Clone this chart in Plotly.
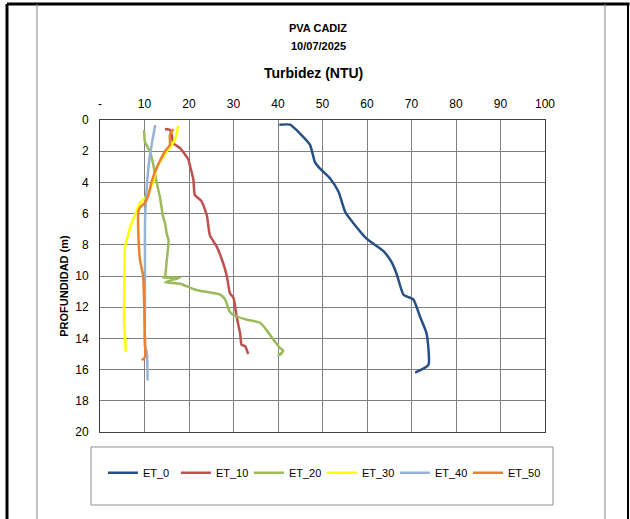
import plotly.graph_objects as go

# Turbidez (NTU) vs profundidad (m) por estación
et0_ntu = [40.3, 42.7, 44.9, 47.2, 48.3, 49.4, 51.7, 53.6, 55.1, 56.9, 59.9, 63.7, 65.5, 66.7, 68.2, 70.4, 71.9, 73.4, 73.8, 70.8]
et0_depth = [0.3, 0.3, 0.85, 1.6, 2.7, 3.1, 3.75, 4.6, 5.9, 6.6, 7.6, 8.4, 9.1, 9.9, 11.2, 11.5, 12.6, 13.7, 15.7, 16.2]

et10_ntu = [14.6, 15.7, 16.1, 16.5, 18.0, 19.8, 20.2, 21.0, 21.3, 22.8, 24.0, 24.7, 26.2, 27.7, 28.5, 29.2, 30.0, 30.7, 31.5, 31.8, 32.6, 33.3]
et10_depth = [0.58, 0.64, 0.96, 1.5, 1.8, 2.5, 2.9, 3.85, 4.8, 5.2, 6.1, 7.4, 8.1, 9.2, 10.0, 11.1, 11.4, 12.6, 13.7, 14.4, 14.5, 15.0]

et20_ntu = [9.9, 10.1, 11.2, 12.0, 12.7, 13.5, 14.1, 14.6, 15.0, 15.4, 15.0, 14.6, 14.2, 18.0, 14.6, 18.0, 21.7, 27.0, 28.1, 29.2, 30.0, 33.0, 36.0, 37.5, 39.3, 40.4, 41.2, 40.1, 41.0]
et20_depth = [0.64, 1.4, 2.0, 2.9, 3.95, 5.0, 6.1, 6.6, 7.3, 7.7, 9.0, 10.0, 10.1, 10.1, 10.4, 10.5, 10.9, 11.2, 11.5, 12.3, 12.5, 12.8, 13.0, 13.5, 14.2, 14.6, 14.8, 15.1, 14.95]

et30_ntu = [17.6, 16.9, 16.1, 15.0, 13.9, 12.7, 12.0, 10.9, 10.1, 9.0, 7.9, 7.1, 6.0, 5.6, 5.5, 5.4, 5.6, 5.8]
et30_depth = [0.37, 1.2, 1.6, 2.0, 2.5, 3.1, 3.95, 4.6, 5.0, 5.3, 6.1, 6.6, 7.7, 8.2, 10.0, 12.8, 13.8, 14.85]

et40_ntu = [12.4, 12.0, 11.6, 11.1, 10.6, 10.3, 10.1, 10.1, 10.1, 10.1, 10.5, 10.7]
et40_depth = [0.32, 0.96, 1.6, 2.5, 3.95, 5.2, 6.7, 9.0, 12.0, 14.5, 14.85, 16.7]

et50_ntu = [16.5, 15.7, 15.7, 14.6, 13.5, 12.4, 11.6, 10.9, 10.1, 9.0, 8.6, 8.6, 9.0, 9.7, 10.0, 10.1, 10.1, 9.4]
et50_depth = [0.58, 0.96, 1.6, 2.0, 2.6, 3.3, 3.95, 4.8, 5.3, 5.6, 5.9, 7.1, 9.0, 10.0, 12.8, 14.0, 15.2, 15.4]

x_ticks = [0, 10, 20, 30, 40, 50, 60, 70, 80, 90, 100]
x_tick_labels = ["-", "10", "20", "30", "40", "50", "60", "70", "80", "90", "100"]
y_ticks = [0, 2, 4, 6, 8, 10, 12, 14, 16, 18, 20]

series = [
    ("ET_0", et0_ntu, et0_depth, "#264F86"),
    ("ET_10", et10_ntu, et10_depth, "#C0504D"),
    ("ET_20", et20_ntu, et20_depth, "#9BBB59"),
    ("ET_30", et30_ntu, et30_depth, "#FFFF00"),
    ("ET_40", et40_ntu, et40_depth, "#95B3D7"),
    ("ET_50", et50_ntu, et50_depth, "#E9812F"),
]

fig = go.Figure()

for name, xs, ys, color in series:
    fig.add_trace(go.Scatter(
        x=xs, y=ys, name=name, mode="lines",
        line=dict(color=color, width=2.5, shape="spline", smoothing=0.5),
    ))

font = "Liberation Sans, Arial, sans-serif"

# marcos de la página y caja de la leyenda
shapes = [
    dict(type="line", xref="paper", yref="paper", x0=-0.209, x1=1.19, y0=1.372, y1=1.372,
         line=dict(color="black", width=3)),
    dict(type="line", xref="paper", yref="paper", x0=-0.209, x1=-0.209, y0=1.372, y1=-0.3,
         line=dict(color="black", width=3)),
    dict(type="line", xref="paper", yref="paper", x0=1.1865, x1=1.1865, y0=1.372, y1=-0.3,
         line=dict(color="black", width=2)),
    dict(type="line", xref="paper", yref="paper", x0=-0.1416, x1=-0.1416, y0=1.372, y1=-0.3,
         line=dict(color="#808080", width=1)),
    dict(type="line", xref="paper", yref="paper", x0=1.1348, x1=1.1348, y0=1.372, y1=-0.3,
         line=dict(color="#808080", width=1)),
    dict(type="rect", xref="paper", yref="paper", x0=-0.0202, x1=1.018, y0=-0.234, y1=-0.048,
         line=dict(color="#909090", width=1)),
]

annotations = [
    dict(text="<b>PVA CADIZ</b>", x=0.49, y=1.295, xref="paper", yref="paper", yanchor="middle",
         showarrow=False, font=dict(size=11, family=font, color="black")),
    dict(text="<b>10/07/2025</b>", x=0.49, y=1.237, xref="paper", yref="paper", yanchor="middle",
         showarrow=False, font=dict(size=11, family=font, color="black")),
    dict(text="<b>Turbidez (NTU)</b>", x=0.48, y=1.151, xref="paper", yref="paper", yanchor="middle",
         showarrow=False, font=dict(size=14, family=font, color="black")),
    dict(text="<b>PROFUNDIDAD (m)</b>", x=-0.098, y=0.47, xref="paper", yref="paper",
         textangle=-90, showarrow=False, font=dict(size=11, family=font, color="black")),
]

fig.update_layout(
    width=630, height=519,
    margin=dict(l=100, r=85, t=120, b=87, autoexpand=False),
    plot_bgcolor="white", paper_bgcolor="white",
    font=dict(family=font, size=12, color="black"),
    showlegend=True,
    legend=dict(
        orientation="h", xref="container", x=0.511, xanchor="center",
        yref="container", y=0.089, yanchor="middle",
        font=dict(size=11, family=font, color="black"),
        entrywidth=28, itemwidth=30, bgcolor="rgba(0,0,0,0)",
    ),
    shapes=shapes,
    annotations=annotations,
)

fig.update_xaxes(
    side="top", range=[0, 100], tickvals=x_ticks, ticktext=x_tick_labels,
    showgrid=True, gridcolor="#808080", gridwidth=1, automargin=False,
    showline=True, linecolor="#404040", linewidth=1, mirror=True,
    ticks="outside", ticklen=6, tickcolor="white", zeroline=False,
)
fig.update_yaxes(
    range=[20, 0], tickvals=y_ticks, automargin=False,
    showgrid=True, gridcolor="#808080", gridwidth=1,
    showline=True, linecolor="#404040", linewidth=1, mirror=True,
    ticks="outside", ticklen=8, tickcolor="white", zeroline=False,
)

# quitar el margen del body para que la figura empiece en (0, 0)
fig.write_html(
    "out.html",
    config={"displayModeBar": False},
    post_script="document.body.style.margin='0px';",
)
